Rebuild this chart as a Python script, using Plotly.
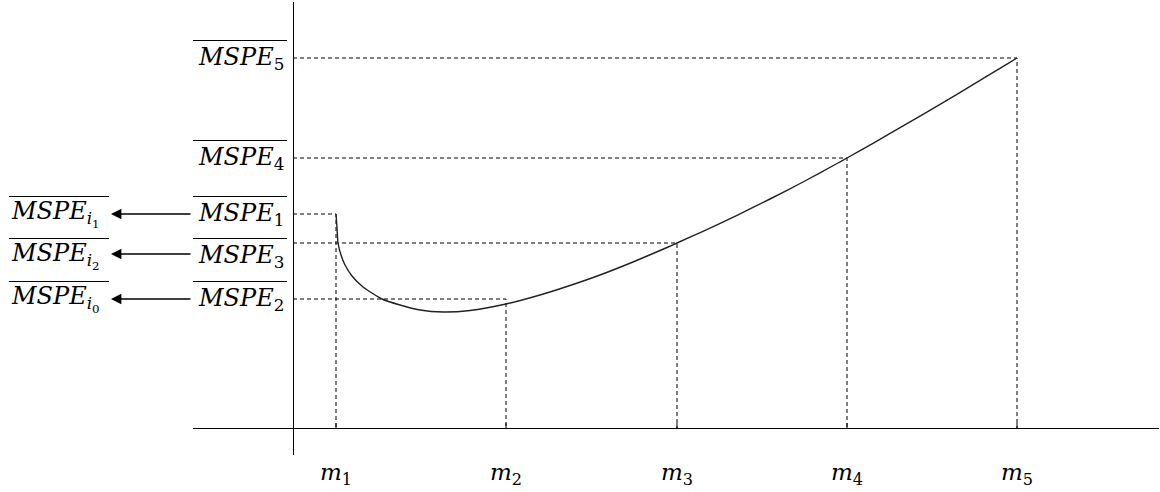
import plotly.graph_objects as go

# Model sizes m_1..m_5 on the horizontal axis (distance from the vertical axis)
m_names = ["1", "2", "3", "4", "5"]
m_pos = [0.43, 2.13, 3.84, 5.54, 7.24]

# Average MSPE reached at each model size (MSPE_1 .. MSPE_5)
mspe_names = ["1", "2", "3", "4", "5"]
mspe_vals = [21.4, 12.9, 18.5, 27.0, 37.0]

# Average MSPE curve as a function of m
curve_x = [0.43, 0.44, 0.45, 0.48, 0.52, 0.59, 0.70, 0.89, 1.07, 1.27, 1.50, 1.77,
           2.13, 2.47, 2.74, 3.07, 3.40, 3.74, 3.84, 4.10, 4.44, 4.77, 5.10, 5.44,
           5.54, 5.80, 6.14, 6.47, 6.80, 7.14, 7.24]
curve_y = [21.4, 20.0, 18.5, 17.3, 16.3, 15.2, 14.1, 12.9, 12.3, 11.8, 11.6, 11.75,
           12.4, 13.3, 14.15, 15.3, 16.6, 18.05, 18.5, 19.67, 21.27, 22.9, 24.6, 26.45,
           27.0, 28.47, 30.43, 32.36, 34.33, 36.39, 37.0]

# Sorted selection: rows on the left, in the order they appear top to bottom
sorted_rows = [("1", "1"), ("2", "3"), ("0", "2")]  # (i-index, MSPE index)

SERIF = "DejaVu Serif"
FONT = dict(family=SERIF, size=24, color="black")
MSPE = "<i>MSPE</i>"
BAR_LIFT = 1.75  # height of the bar above the label centre, in y units


def mspe_text(sub):
    return MSPE + "<sub>%s</sub>" % sub


fig = go.Figure()

# dashed guides: from the vertical axis to each point, then down to the horizontal axis
for m, v in zip(m_pos, mspe_vals):
    fig.add_trace(go.Scatter(
        x=[0, m, m], y=[v, v, 0], mode="lines",
        line=dict(color="black", width=1, dash="4px,3px"),
        hoverinfo="skip", showlegend=False))

fig.add_trace(go.Scatter(
    x=curve_x, y=curve_y, mode="lines",
    line=dict(color="#222222", width=1.4, shape="spline", smoothing=0.6),
    hoverinfo="skip", showlegend=False))

shapes = []
# short ticks on the horizontal axis
for m in m_pos:
    shapes.append(dict(type="line", xref="x", yref="y", x0=m, x1=m, y0=0, y1=0.5,
                       line=dict(color="black", width=1)))

annotations = []
label_shift = {"3": -13}
for name, v in zip(mspe_names, mspe_vals):
    shift = label_shift.get(name, 0)
    annotations.append(dict(
        xref="x", yref="y", x=0, y=v, xanchor="right", yanchor="middle",
        xshift=-7, yshift=shift, text=mspe_text(name), showarrow=False, font=FONT))
    # bar over the label
    bar_y = v + BAR_LIFT + shift / 10
    shapes.append(dict(type="line", xref="paper", yref="y",
                       x0=0.0, x1=0.0973, y0=bar_y, y1=bar_y,
                       line=dict(color="black", width=1)))

for i_idx, k in sorted_rows:
    v = mspe_vals[mspe_names.index(k)]
    shift = label_shift.get(k, 0)
    arrow_shift = -11 if shift else 0
    annotations.append(dict(
        xref="paper", yref="y", x=-0.1905, y=v, xanchor="left", yanchor="middle",
        yshift=shift,
        text=MSPE + "<sub><i>i</i><sub>%s</sub></sub>" % i_idx,
        showarrow=False, font=FONT))
    bar_y = v + BAR_LIFT + shift / 10
    shapes.append(dict(type="line", xref="paper", yref="y",
                       x0=-0.1905, x1=-0.087, y0=bar_y, y1=bar_y,
                       line=dict(color="black", width=1)))
    annotations.append(dict(
        xref="paper", yref="y", x=-0.0849, y=v, yshift=arrow_shift, text="",
        showarrow=True, ax=81, ay=0, axref="pixel", ayref="pixel",
        arrowhead=2, arrowsize=1.6, arrowwidth=1.3, arrowcolor="black", standoff=0))

fig.update_layout(
    width=1160, height=492,
    margin=dict(l=193, r=1, t=2, b=37),
    paper_bgcolor="white", plot_bgcolor="white",
    showlegend=False,
    shapes=shapes, annotations=annotations,
    xaxis=dict(range=[-1.0, 8.66], showgrid=False, showline=False,
               zeroline=True, zerolinecolor="black", zerolinewidth=1.3,
               tickvals=m_pos, ticktext=["<i>m</i><sub>%s</sub>" % n for n in m_names],
               ticks="", tickfont=dict(family=SERIF, size=23, color="black"),
               ticklabelstandoff=1, fixedrange=True),
    yaxis=dict(range=[-2.7, 42.6], showgrid=False, showline=False,
               zeroline=True, zerolinecolor="black", zerolinewidth=1.3,
               showticklabels=False, ticks="", fixedrange=True),
)

fig.write_html("out.html")
